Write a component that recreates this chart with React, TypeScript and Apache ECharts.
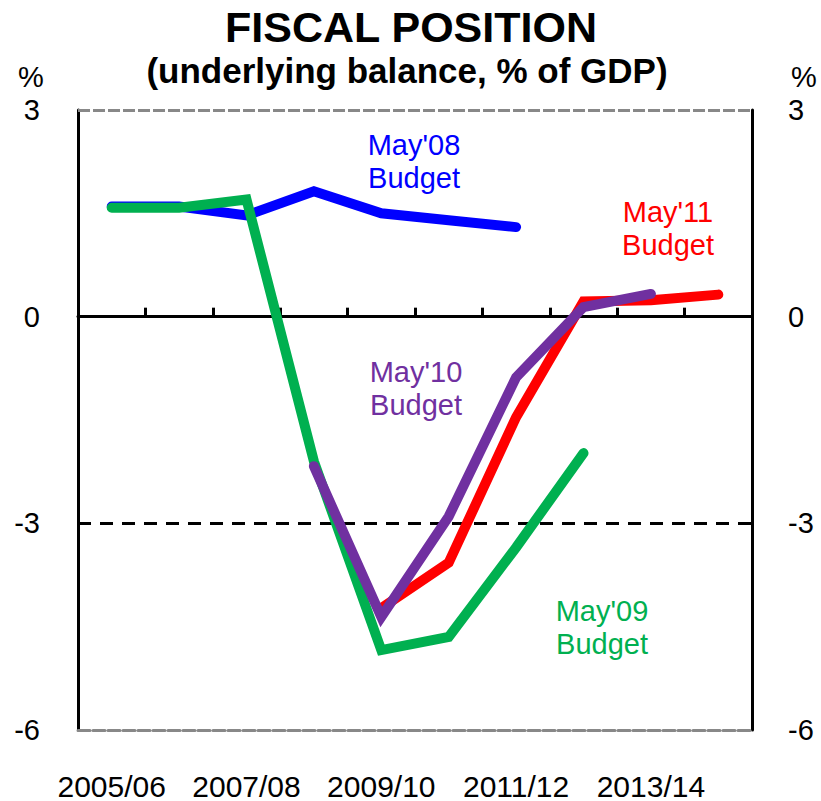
import React, { useEffect, useRef } from "react";
import * as echarts from "echarts";

const categories = ["2005/06", "2006/07", "2007/08", "2008/09", "2009/10", "2010/11", "2011/12", "2012/13", "2013/14", "2014/15"];
const may08 = [1.6, 1.6, 1.47, 1.82, 1.5, 1.4, 1.3, null, null, null];
const may09 = [1.58, 1.58, 1.7, -2.1, -4.84, -4.65, -3.35, -1.98, null, null];
const may10 = [null, null, null, -2.17, -4.36, -2.9, -0.88, 0.14, 0.33, null];
const may11 = [null, null, null, null, -4.23, -3.57, -1.46, 0.22, 0.24, 0.32];
const yTicks = { min: -6, max: 3, interval: 3 };

const FONT = "'Liberation Sans', Arial, sans-serif";

export default function App() {
  const ref = useRef<HTMLDivElement>(null);
  useEffect(() => {
    if (!ref.current) return;
    const chart = echarts.init(ref.current, undefined, { renderer: "svg" });
    const lineSeries = (name: string, data: (number | null)[], color: string, z: number) => ({
      name,
      type: "line",
      data,
      symbol: "none",
      xAxisIndex: 0,
      yAxisIndex: 0,
      z,
      lineStyle: { color, width: 10, cap: "round", join: "miter" },
      connectNulls: false,
    });
    const yAxisBase = {
      type: "value",
      min: yTicks.min,
      max: yTicks.max,
      interval: yTicks.interval,
      splitLine: { show: false },
      axisTick: { show: false },
      axisLine: { show: true, onZero: false, lineStyle: { color: "#000", width: 3 } },
    };
    const annotation = (text: string, x: number, y: number, color: string) => ({
      type: "text",
      x,
      y,
      style: {
        text,
        fill: color,
        font: `29px ${FONT}`,
        textAlign: "center",
        textVerticalAlign: "middle",
        lineHeight: 33,
      },
    });
    chart.setOption({
      animation: false,
      backgroundColor: "#fff",
      textStyle: { fontFamily: FONT },
      grid: { left: 78, right: 69, top: 110, bottom: 71, containLabel: false },
      xAxis: [
        {
          type: "category",
          data: categories,
          position: "bottom",
          boundaryGap: true,
          axisLine: { show: true, onZero: false, lineStyle: { color: "#888", width: 3, type: [12, 3] } },
          axisTick: { show: false },
          axisLabel: { interval: 1, fontSize: 30, color: "#000", margin: 41, fontFamily: FONT },
          splitLine: { show: false },
        },
        {
          type: "category",
          data: categories,
          position: "top",
          boundaryGap: true,
          axisLine: { show: true, onZero: true, lineStyle: { color: "#000", width: 3 } },
          axisTick: { show: true, inside: false, length: 9, lineStyle: { color: "#000", width: 3 } },
          axisLabel: { show: false },
          splitLine: { show: false },
        },
      ],
      yAxis: [
        {
          ...yAxisBase,
          position: "left",
          axisLabel: { fontSize: 29, color: "#000", margin: 38, fontFamily: FONT },
        },
        {
          ...yAxisBase,
          position: "right",
          axisLabel: { fontSize: 29, color: "#000", margin: 36, fontFamily: FONT },
        },
      ],
      series: [
        {
          ...lineSeries("May'08", may08, "#0000FF", 2),
          markLine: {
            silent: true,
            symbol: ["none", "none"],
            label: { show: false },
            z: 1,
            data: [
              { yAxis: 3, lineStyle: { color: "#888", width: 3, type: [12, 3] } },
              { yAxis: -3, lineStyle: { color: "#000", width: 3, type: [13, 9] } },
            ],
          },
        },
        lineSeries("May'09", may09, "#00B050", 3),
        lineSeries("May'11", may11, "#FF0000", 4),
        lineSeries("May'10", may10, "#7030A0", 5),
      ],
      graphic: [
        {
          type: "text",
          x: 411,
          y: 27,
          style: { text: "FISCAL POSITION", fill: "#000", font: `bold 43px ${FONT}`, textAlign: "center", textVerticalAlign: "middle" },
        },
        {
          type: "text",
          x: 407,
          y: 70,
          style: { text: "(underlying balance, % of GDP)", fill: "#000", font: `bold 35px ${FONT}`, textAlign: "center", textVerticalAlign: "middle" },
        },
        { type: "text", x: 31, y: 77, style: { text: "%", fill: "#000", font: `29px ${FONT}`, textAlign: "center", textVerticalAlign: "middle" } },
        { type: "text", x: 804, y: 77, style: { text: "%", fill: "#000", font: `29px ${FONT}`, textAlign: "center", textVerticalAlign: "middle" } },
        annotation("May'08\nBudget", 414, 161, "#0000FF"),
        annotation("May'11\nBudget", 668, 228, "#FF0000"),
        annotation("May'10\nBudget", 416, 388, "#7030A0"),
        annotation("May'09\nBudget", 602, 627, "#00B050"),
      ],
    });
    return () => chart.dispose();
  }, []);
  return <div ref={ref} style={{ width: 821, height: 801, position: "absolute", left: 0, top: 0 }} />;
}
